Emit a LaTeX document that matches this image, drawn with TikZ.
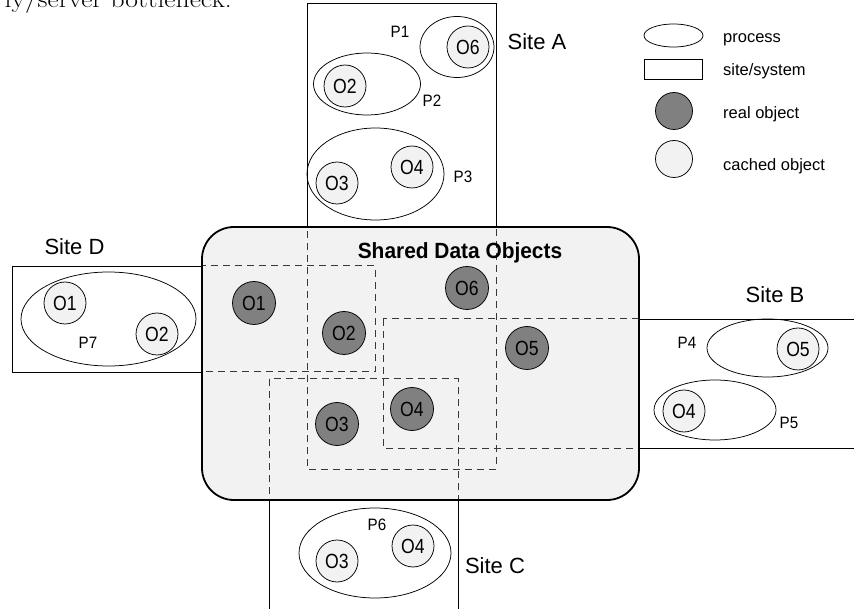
\documentclass[tikz,border=0pt]{standalone}
\usepackage{fontspec}
\usetikzlibrary{shapes.geometric}
\newfontfamily\hv{Liberation Sans}
\newfontfamily\hvn[FakeStretch=0.86]{Liberation Sans}
\newfontfamily\hvp[FakeStretch=0.92]{Liberation Sans}
\newfontfamily\hvb[FakeStretch=0.95]{Liberation Sans Bold}
\definecolor{realgray}{HTML}{808080}
\definecolor{cachegray}{HTML}{F2F2F2}
\definecolor{boxfill}{HTML}{F2F2F2}
\definecolor{dashgray}{HTML}{383838}
\begin{document}
\begin{tikzpicture}[x=1pt,y=-1pt,
  sitebox/.style={draw=black, line width=0.8pt},
  sitedash/.style={draw=dashgray, line width=1pt, dash pattern=on 7pt off 5pt},
  proc/.style={ellipse, draw=black, line width=0.75pt, inner sep=0pt},
  realobj/.style={circle, draw=black, line width=0.75pt, fill=realgray, minimum size=43pt, inner sep=0pt, font=\hvn\fontsize{20.5}{20.5}\selectfont},
  cachedobj/.style={circle, draw=black, line width=0.75pt, fill=cachegray, minimum size=42pt, inner sep=0pt, font=\hvn\fontsize{20.5}{20.5}\selectfont},
  plabel/.style={inner sep=0pt, font=\hvp\fontsize{16.5}{16.5}\selectfont},
  sitelabel/.style={inner sep=0pt, font=\hv\fontsize{22}{22}\selectfont},
  legtext/.style={inner sep=0pt, anchor=base west, font=\hv\fontsize{16.5}{16.5}\selectfont},
]
\useasboundingbox (0,0) rectangle (854,609);
\clip (0,0) rectangle (854,609);

% cut-off text at top
\node[inner sep=0pt, anchor=base east, xscale=1.15, transform shape, font=\fontsize{24}{24}\selectfont] (cuttext) at (232,8) {ly/server bottleneck.};

% site rectangles (solid)
\draw[sitebox] (307,3) rectangle (496,469);
\draw[sitebox] (12,266) rectangle (375,372);
\draw[sitebox] (383,319) rectangle (880,448);
\draw[sitebox] (269,379) rectangle (458,640);

% shared data objects box
\fill[boxfill, rounded corners=32pt] (202,227) rectangle (639,500);
\begin{scope}
  \clip[rounded corners=32pt] (202,227) rectangle (639,500);
  \draw[sitedash] (307,3) rectangle (496,469);
  \draw[sitedash] (12,266) rectangle (375,372);
  \draw[sitedash] (383,319) rectangle (880,448);
  \draw[sitedash] (269,379) rectangle (458,640);
\end{scope}
\draw[line width=1.8pt, rounded corners=32pt] (202,227) rectangle (639,500);
\node[inner sep=0pt, anchor=base, font=\hvb\fontsize{22}{22}\selectfont] (title) at (460,259) {Shared Data Objects};

% real objects
\node[realobj] (r1) at (254,303) {O1};
\node[realobj] (r2) at (344,333) {O2};
\node[realobj] (r6) at (467,288) {O6};
\node[realobj] (r5) at (527,348) {O5};
\node[realobj] (r4) at (412,409) {O4};
\node[realobj] (r3) at (337,424) {O3};

% Site A
\node[proc, minimum width=74pt, minimum height=61pt] (p1) at (457,47) {};
\node[cachedobj] (a6) at (468,47) {O6};
\node[plabel] (p1l) at (400,32) {P1};
\node[proc, minimum width=107pt, minimum height=62pt] (p2) at (367,84) {};
\node[cachedobj] (a2) at (345,86) {O2};
\node[plabel] (p2l) at (432,101) {P2};
\node[proc, minimum width=137pt, minimum height=92pt] (p3) at (375.5,174) {};
\node[cachedobj] (a3) at (337,183) {O3};
\node[cachedobj] (a4) at (412,167) {O4};
\node[plabel] (p3l) at (463,177) {P3};
\node[sitelabel] (sA) at (537,42) {Site A};

% Site D
\node[proc, minimum width=175pt, minimum height=94pt] (p7) at (108.5,319) {};
\node[cachedobj] (d1) at (65,303) {O1};
\node[cachedobj] (d2) at (157,334) {O2};
\node[plabel] (p7l) at (88,343) {P7};
\node[sitelabel] (sD) at (74.5,247) {Site D};

% Site B
\node[proc, minimum width=121pt, minimum height=58pt] (p4) at (767.5,348) {};
\node[cachedobj] (b5) at (798,349) {O5};
\node[plabel] (p4l) at (687,343) {P4};
\node[proc, minimum width=122pt, minimum height=60pt] (p5) at (715,410) {};
\node[cachedobj] (b4) at (684,411) {O4};
\node[plabel] (p5l) at (789,423) {P5};
\node[sitelabel] (sB) at (775,295) {Site B};

% Site C
\node[proc, minimum width=152pt, minimum height=90pt] (p6) at (375,553) {};
\node[cachedobj] (c3) at (337,561) {O3};
\node[cachedobj] (c4) at (413,546) {O4};
\node[plabel] (p6l) at (377,525) {P6};
\node[sitelabel] (sC) at (495,566) {Site C};

% legend
\node[proc, minimum width=59pt, minimum height=23pt] (lp) at (673.5,35.5) {};
\node[legtext] (lpt) at (723,43) {process};
\node[draw=black, line width=0.8pt, minimum width=58pt, minimum height=20pt, inner sep=0pt] (ls) at (673,69) {};
\node[legtext] (lst) at (723,76) {site/system};
\node[circle, draw=black, line width=0.75pt, fill=realgray, minimum size=37pt, inner sep=0pt] (lr) at (674,111) {};
\node[legtext] (lrt) at (723,119) {real object};
\node[circle, draw=black, line width=0.75pt, fill=cachegray, minimum size=37pt, inner sep=0pt] (lc) at (674,159) {};
\node[legtext] (lct) at (723,171) {cached object};
\end{tikzpicture}
\end{document}
